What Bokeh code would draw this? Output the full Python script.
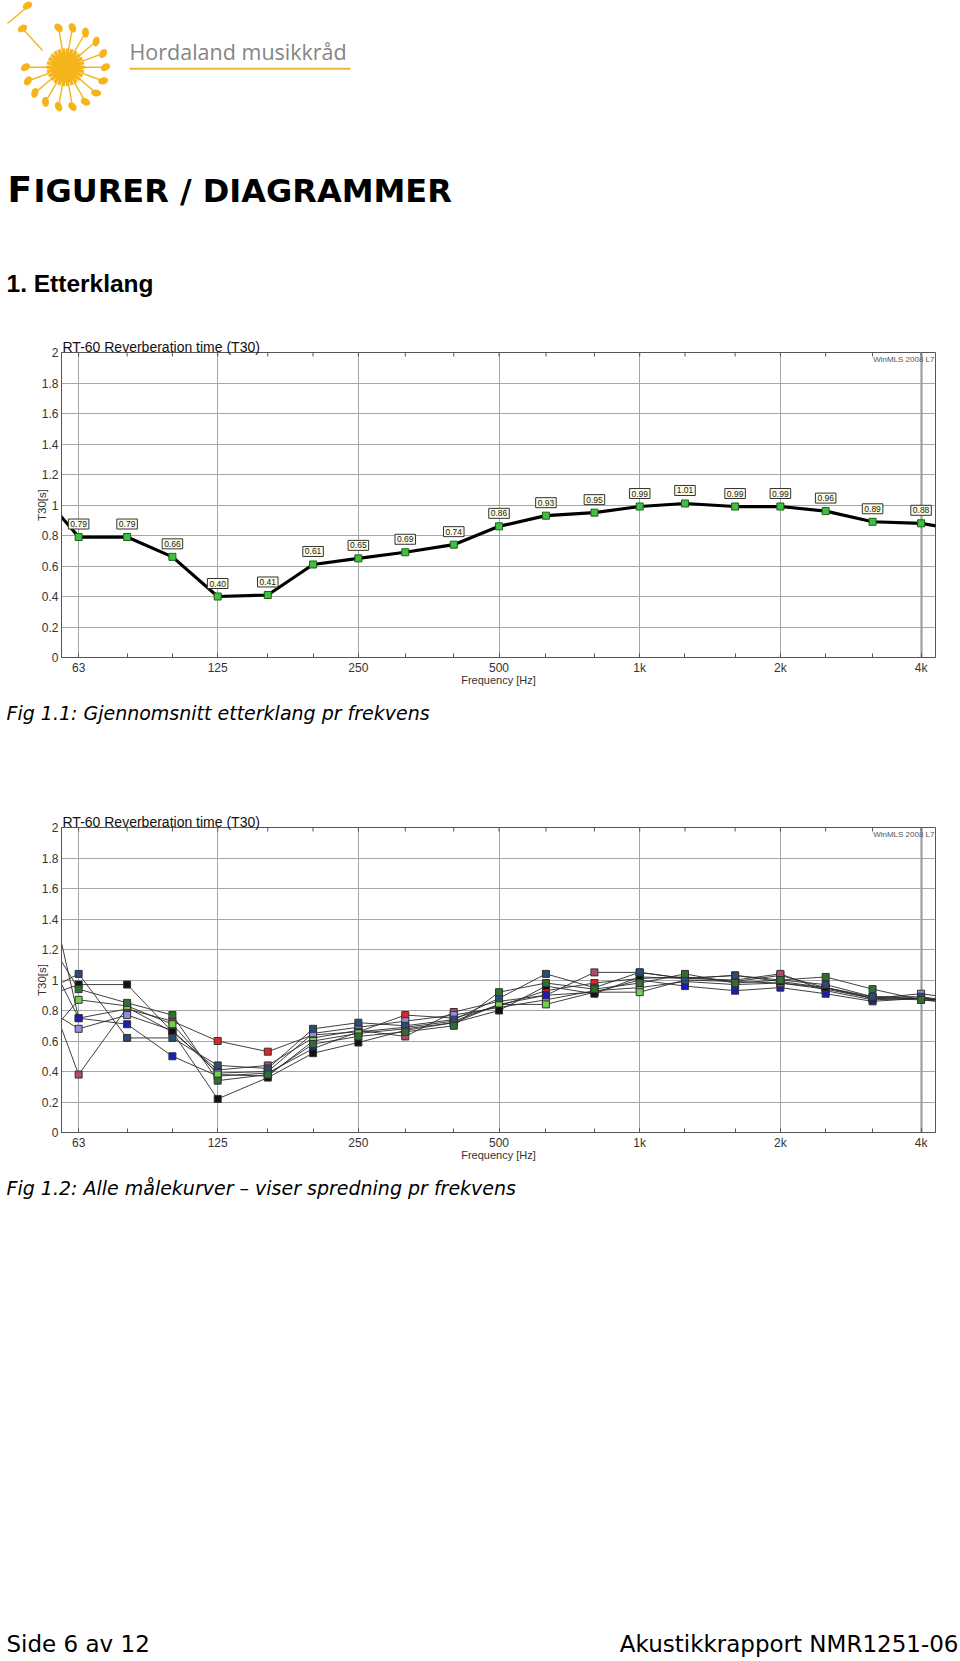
import numpy as np
from bokeh.plotting import figure
from bokeh.models import Range1d, FixedTicker, Label, Grid
from bokeh.layouts import column
from bokeh.embed import file_html
from bokeh.resources import INLINE

# ---------------- data ----------------
# third-octave bands; the first (50 Hz) and last (5 kHz) lie just outside the
# visible frequency window, the curves run on to the frame edge as in WinMLS
freq = [50, 63, 80, 100, 125, 160, 200, 250, 315, 400, 500, 630, 800,
        1000, 1250, 1600, 2000, 2500, 3150, 4000, 5000]

# Fig 1.1 average T30 [s]
avg_t30 = [1.15, 0.79, 0.79, 0.66, 0.40, 0.41, 0.61, 0.65, 0.69, 0.74, 0.86,
           0.93, 0.95, 0.99, 1.01, 0.99, 0.99, 0.96, 0.89, 0.88, 0.83]

# Fig 1.2 individual measurement curves T30 [s]
m_navy = [0.88, 1.04, 0.62, 0.62, 0.44, 0.42, 0.68, 0.72, 0.70, 0.74, 0.88,
          1.04, 0.95, 1.05, 1.01, 1.03, 1.00, 0.97, 0.89, 0.89, 0.85]
m_black = [0.86, 0.97, 0.97, 0.66, 0.22, 0.36, 0.52, 0.59, 0.67, 0.72, 0.80,
           0.96, 0.91, 1.02, 1.01, 1.03, 0.99, 0.95, 0.88, 0.87, 0.84]
m_dkgreen = [1.44, 0.94, 0.85, 0.77, 0.34, 0.38, 0.58, 0.63, 0.66, 0.70, 0.92,
             0.98, 0.94, 0.98, 1.04, 0.98, 1.00, 1.02, 0.94, 0.87, 0.85]
m_ltgreen = [0.51, 0.87, 0.83, 0.71, 0.38, 0.37, 0.60, 0.65, 0.68, 0.72, 0.84,
             0.84, 0.92, 0.92, 1.00, 0.99, 0.98, 0.95, 0.89, 0.88, 0.85]
m_blue = [2.10, 0.75, 0.71, 0.50, 0.37, 0.39, 0.55, 0.66, 0.69, 0.73, 0.84,
          0.90, 0.92, 1.00, 0.96, 0.93, 0.95, 0.91, 0.86, 0.88, 0.86]
m_lavender = [0.87, 0.68, 0.77, 0.67, 0.39, 0.40, 0.65, 0.69, 0.73, 0.77, 0.82,
              0.87, 0.93, 0.95, 0.99, 0.97, 0.98, 0.94, 0.88, 0.91, 0.87]
m_mauve = [1.21, 0.38, 0.82, 0.66, 0.41, 0.44, 0.62, 0.67, 0.63, 0.79, 0.86,
           0.90, 1.05, 1.05, 1.01, 1.00, 1.04, 0.93, 0.87, 0.88, 0.85]
m_red = [1.36, 0.75, 0.81, 0.73, 0.60, 0.53, 0.64, 0.66, 0.77, 0.75, 0.83,
         0.93, 0.98, 1.01, 1.02, 0.99, 1.03, 0.95, 0.88, 0.88, 0.85]

series = [m_red, m_mauve, m_lavender, m_blue, m_ltgreen, m_black, m_navy, m_dkgreen]
series_colors = ["#e02424", "#b24a6c", "#8e8ee6", "#1c1cb8", "#72cf52",
                 "#111111", "#2b4a74", "#2f6f2f"]

octave_ticks = [63, 125, 250, 500, 1000, 2000, 4000]
octave_labels = ["63", "125", "250", "500", "1k", "2k", "4k"]
y_ticks = [0, 0.2, 0.4, 0.6, 0.8, 1, 1.2, 1.4, 1.6, 1.8, 2]
y_labels = ["0", "0.2", "0.4", "0.6", "0.8", "1", "1.2", "1.4", "1.6", "1.8", "2"]

chart_title = "RT-60 Reverberation time (T30)"
x_title = "Frequency [Hz]"
y_title = "T30[s]"
brand = "WinMLS 2008 L7"

W = 960
X_LO, X_HI = 57.9, 4295
FONT = "Liberation Sans"
bands = freq[1:-1]
BL = 0.4  # alphabetic-baseline correction, in em


def make_chart():
    p = figure(width=W, height=388, x_axis_type="log",
               x_range=Range1d(X_LO, X_HI), y_range=Range1d(0, 2),
               output_backend="svg", toolbar_location=None,
               min_border_left=61, min_border_right=25,
               min_border_top=40, min_border_bottom=43,
               title=chart_title, frame_align=False)
    p.background_fill_color = "white"
    p.outline_line_color = "#555555"
    p.outline_line_width = 1

    p.title.align = "left"
    p.title.offset = 1
    p.title.standoff = -4
    p.title.text_font = FONT
    p.title.text_font_size = "14px"
    p.title.text_font_style = "normal"
    p.title.text_color = "#111111"

    ax = p.xaxis[0]
    ax.ticker = FixedTicker(ticks=octave_ticks, minor_ticks=bands)
    ax.major_label_overrides = dict(zip(octave_ticks, octave_labels))
    ax.major_tick_in = 4
    ax.major_tick_out = 0
    ax.minor_tick_in = 4
    ax.minor_tick_out = 0
    ax.major_tick_line_color = "#555555"
    ax.minor_tick_line_color = "#555555"
    ax.axis_line_color = "#555555"
    ax.major_label_standoff = 3
    ax.major_label_text_font = FONT
    ax.major_label_text_font_size = "12px"
    ax.major_label_text_color = "#333333"
    ax.axis_label = x_title
    ax.axis_label_standoff = -4
    ax.axis_label_text_font = FONT
    ax.axis_label_text_font_size = "11px"
    ax.axis_label_text_font_style = "normal"
    ax.axis_label_text_color = "#333333"

    ay = p.yaxis[0]
    ay.ticker = FixedTicker(ticks=y_ticks)
    ay.major_label_overrides = dict(zip(y_ticks, y_labels))
    ay.major_tick_in = 0
    ay.major_tick_out = 0
    ay.minor_tick_in = 0
    ay.minor_tick_out = 0
    ay.axis_line_color = "#555555"
    ay.major_label_standoff = 3
    ay.major_label_text_font = FONT
    ay.major_label_text_font_size = "12px"
    ay.major_label_text_color = "#333333"
    ay.axis_label = y_title
    ay.axis_label_standoff = -9
    ay.axis_label_text_font = FONT
    ay.axis_label_text_font_size = "11.5px"
    ay.axis_label_text_font_style = "normal"
    ay.axis_label_text_color = "#333333"

    p.xgrid.ticker = FixedTicker(ticks=octave_ticks)
    p.xgrid.grid_line_color = "#a6a6a6"
    p.ygrid.grid_line_color = "#a6a6a6"
    # the 4k grid line is drawn heavier in the original
    p.add_layout(Grid(dimension=0, ticker=FixedTicker(ticks=[octave_ticks[-1]]),
                      grid_line_color="#a0a0a0", grid_line_width=2.2))

    # inward ticks along the top frame edge at every band
    p.scatter(bands, [2] * len(bands), marker="dash", angle=np.pi / 2, size=8,
              line_color="#555555", line_width=1)

    p.add_layout(Label(x=X_HI, y=2.0, text=brand, x_offset=-1, y_offset=-2,
                       text_font=FONT, text_font_size="8px",
                       text_color="#555555", text_align="right",
                       text_baseline="top"))
    return p


# ---------------- chart 1 ----------------
c1 = make_chart()
c1.line(freq, avg_t30, line_color="black", line_width=3.2)
c1.scatter(bands, avg_t30[1:-1], marker="square", size=7,
           fill_color="#3fc03f", line_color="#1d5e1d", line_width=1)
for f_, v_ in zip(bands, avg_t30[1:-1]):
    c1.add_layout(Label(x=f_, y=v_, text=f"{v_:.2f}", y_offset=8,
                        text_align="center", text_baseline="bottom",
                        text_font=FONT, text_font_size="8.5px",
                        text_color="#222222", padding=2,
                        background_fill_color="#fbfbe6",
                        border_line_color="#333333", border_line_width=1))

# ---------------- chart 2 ----------------
c2 = make_chart()
for s in series:
    c2.line(freq, s, line_color="#2a2a2a", line_width=0.9)
for s, col in zip(series, series_colors):
    c2.scatter(bands, s[1:-1], marker="square", size=7,
               fill_color=col, line_color="#333333", line_width=1)


# ---------------- text figures ----------------
def text_fig(h):
    f = figure(width=W, height=h, x_range=Range1d(0, W), y_range=Range1d(h, 0),
               x_axis_location=None, y_axis_location=None,
               output_backend="svg", toolbar_location=None, min_border=0,
               frame_align=False)
    f.grid.visible = False
    f.outline_line_color = None
    f.background_fill_color = "white"
    return f


def put(fig, x, y, text, font, size, style="normal", color="#000000", align="left"):
    # y is the wanted alphabetic baseline
    fig.add_layout(Label(x=x, y=y - BL * size, text=text, text_font=font,
                         text_font_size=f"{size}px", text_font_style=style,
                         text_color=color, text_align=align,
                         text_baseline="alphabetic"))


sun = "#f6b41c"
hdr = text_fig(312)
cx, cy = 65, 66.7
a = np.linspace(0, 2 * np.pi, 26, endpoint=False)
hdr.segment(cx + 6 * np.cos(a), cy + 6 * np.sin(a),
            cx + 19 * np.cos(a), cy + 19 * np.sin(a),
            line_color=sun, line_width=3.5)
hdr.scatter([cx], [cy], size=27, fill_color=sun, line_color=None)
na = np.radians(np.arange(-100, 200, 20))
hdr.segment(cx + 18 * np.cos(na), cy + 18 * np.sin(na),
            cx + 36 * np.cos(na), cy + 36 * np.sin(na),
            line_color=sun, line_width=1.4)
hdr.ellipse(x=cx + 40 * np.cos(na), y=cy + 40 * np.sin(na), width=10, height=7,
            angle=-na + 0.6, fill_color=sun, line_color=None)
hdr.segment([7, 22], [23, 28], [25, 42], [8, 50], line_color=sun, line_width=1.4)
hdr.ellipse(x=[27, 22], y=[5, 28], width=10, height=7, angle=0.5,
            fill_color=sun, line_color=None)
hdr.segment([129], [68.3], [350], [68.3], line_color="#f2b631", line_width=2)
put(hdr, 129, 59.3, "Hordaland musikkråd", "Open Sans", 21.5, color="#858585")
put(hdr, 7, 203.3, "F", "DejaVu Sans", 36, "bold")
put(hdr, 33, 203.3, "IGURER / DIAGRAMMER", "DejaVu Sans", 32, "bold")
put(hdr, 6, 292.7, "1. Etterklang", FONT, 24.5, "bold")

cap1 = text_fig(87)
put(cap1, 6, 20, "Fig 1.1: Gjennomsnitt etterklang pr frekvens",
    "DejaVu Sans", 19, "italic")

bot = text_fig(484)
put(bot, 6, 20.4, "Fig 1.2: Alle målekurver – viser spredning pr frekvens",
    "DejaVu Sans", 19, "italic")
put(bot, 6, 478, "Side 6 av 12", "DejaVu Sans", 23)
put(bot, 958, 478, "Akustikkrapport NMR1251-06", "DejaVu Sans", 23, align="right")

page = column(hdr, c1, cap1, c2, bot, spacing=0)
open("out.html", "w").write(file_html(page, INLINE))
